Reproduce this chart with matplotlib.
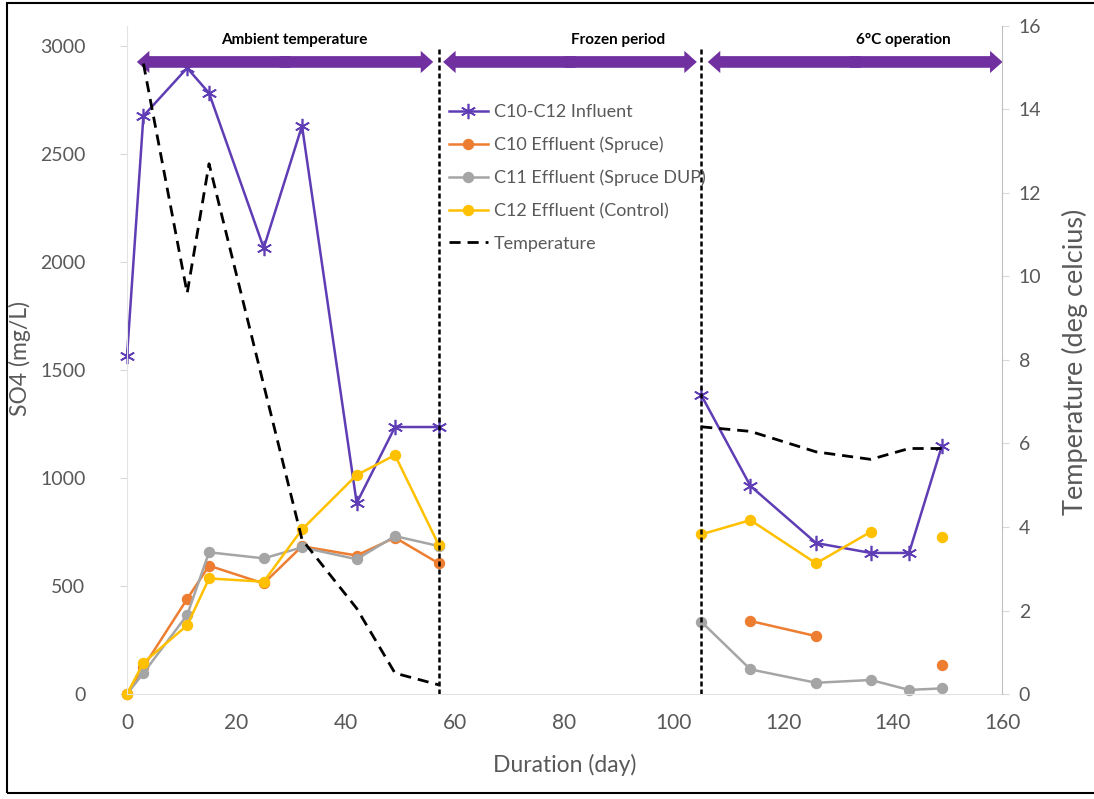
import numpy as np
import matplotlib
matplotlib.use("Agg")
import matplotlib.pyplot as plt
from matplotlib.patches import FancyArrowPatch, Rectangle

plt.rcParams['font.family'] = ['Lato', 'DejaVu Sans']

# Sampling days for the two operating periods
days_amb = [0, 3, 11, 15, 25, 32, 42, 49, 57]
days_cold = [105, 114, 126, 136, 143, 149]
days_temp_amb = [3, 11, 15, 25, 32, 42, 49, 57]

# SO4 (mg/L)
influent_amb = [1565, 2676, 2898, 2782, 2065, 2630, 884, 1236, 1236]
influent_cold = [1384, 963, 699, 653, 653, 1148]
c10_amb = [0, 125, 440, 594, 512, 684, 641, 724, 605]
c10_cold = [np.nan, 338, 268, np.nan, np.nan, 134]
c11_amb = [0, 97, 366, 656, 628, 679, 624, 731, 685]
c11_cold = [335, 114, 52, 65, 19, 26]
c12_amb = [0, 145, 318, 535, 520, 762, 1014, 1106, 690]
c12_cold = [739, 805, 605, 751, np.nan, 728]

# Temperature (deg C)
temp_amb = [15.1, 9.6, 12.7, 7.4, 3.7, 2.05, 0.5, 0.22]
temp_cold = [6.4, 6.29, 5.8, 5.62, 5.88, 5.88]

# Period boundaries, arrow extents and label positions (days)
boundaries = [57, 105]
periods = [("Ambient temperature", 1.8, 56.0, 30.5),
           ("Frozen period", 57.8, 104.2, 89.8),
           ("6°C operation", 106.2, 160.1, 142.0)]

gray_txt = '#595959'

fig = plt.figure(figsize=(10.94, 7.99), dpi=100)
ax = fig.add_axes([0.1161, 0.1314, 0.7998, 0.8361])
ax2 = ax.twinx()

series = [
    ("C10-C12 Influent", influent_amb, influent_cold, '#5F3DB5', (6, 2, 0), 11),
    ("C10 Effluent (Spruce)", c10_amb, c10_cold, '#ED7D31', 'o', 7),
    ("C11 Effluent (Spruce DUP)", c11_amb, c11_cold, '#A5A5A5', 'o', 7),
    ("C12 Effluent (Control)", c12_amb, c12_cold, '#FFC000', 'o', 7),
]
handles = []
for name, amb, cold, col, mk, ms in series:
    h, = ax.plot(days_amb, amb, color=col, marker=mk, markersize=ms, lw=1.8,
                 markeredgewidth=1.2, label=name, clip_on=False)
    ax.plot(days_cold, cold, color=col, marker=mk, markersize=ms, lw=1.8,
            markeredgewidth=1.2, clip_on=False)
    handles.append(h)

ht, = ax2.plot(days_temp_amb, temp_amb, color='black', ls=(0, (4, 2.5)), lw=2,
               label="Temperature")
ax2.plot(days_cold, temp_cold, color='black', ls=(0, (4, 2.5)), lw=2)
handles.append(ht)

ax.set_xlim(0, 160)
ax.set_ylim(0, 3000 * 668 / 648)
ax2.set_ylim(0, 16)
ax.set_xticks(range(0, 161, 20))
ax.set_yticks(range(0, 3001, 500))
ax2.set_yticks(range(0, 17, 2))

for a in (ax, ax2):
    for s in a.spines.values():
        s.set_visible(False)
ax.spines['left'].set_visible(True)
ax.spines['left'].set_color('#E3E3E3')
ax.spines['bottom'].set_visible(True)
ax.spines['bottom'].set_color('#E3E3E3')
ax2.spines['right'].set_visible(True)
ax2.spines['right'].set_color('#BFBFBF')

ax.tick_params(axis='x', length=0, pad=14, labelsize=15, labelcolor=gray_txt)
ax.tick_params(axis='y', length=5, color='#D9D9D9', pad=25, labelsize=14,
               labelcolor=gray_txt)
ax2.tick_params(axis='y', length=5, color='#D9D9D9', pad=7, labelsize=14,
                labelcolor=gray_txt)

# period boundaries
for b in boundaries:
    ax.axvline(b, ymin=0, ymax=(3000 * 1.0) / (3000 * 668 / 648),
               color='black', ls=(0, (2, 1.2)), lw=1.8, zorder=5)

# double headed period arrows
arrow_y = 2926
for name, x0, x1, xt in periods:
    mid = (x0 + x1) / 2
    for start, end in ((mid + 1, x0), (mid - 1, x1)):
        ar = FancyArrowPatch((start, arrow_y), (end, arrow_y),
                             arrowstyle='simple,head_length=0.45,head_width=0.8,tail_width=0.42',
                             mutation_scale=20, color='#7030A0', lw=0,
                             shrinkA=0, shrinkB=0, clip_on=False, zorder=6)
        ax.add_patch(ar)
    ax.text(xt, 3028, name, ha='center', va='center', fontsize=11,
            fontweight='bold', color='black')

leg = ax2.legend(handles=handles, loc='upper left', bbox_to_anchor=(0.410, 0.870),
                 bbox_transform=fig.transFigure, frameon=False, fontsize=13,
                 handlelength=2.2, handletextpad=0.3, labelspacing=0.92,
                 borderpad=0, borderaxespad=0)
for t in leg.get_texts():
    t.set_color(gray_txt)

fig.text(0.516, 1 - 765 / 799, "Duration (day)", ha='center', va='center',
         fontsize=16.5, color=gray_txt)
fig.text(20 / 1094, 1 - 358 / 799, "SO4 (mg/L)", ha='center', va='center',
         rotation=90, fontsize=16.5, color=gray_txt)
fig.text(1075 / 1094, 1 - 362 / 799, "Temperature (deg celcius)", ha='center',
         va='center', rotation=90, fontsize=19.5, color=gray_txt)

fig.patches.append(Rectangle((0.0064, 0.0075), 1.1, 0.9887, fill=False,
                             edgecolor='black', lw=1.5,
                             transform=fig.transFigure, figure=fig))

fig.savefig('out.png', dpi=100)
